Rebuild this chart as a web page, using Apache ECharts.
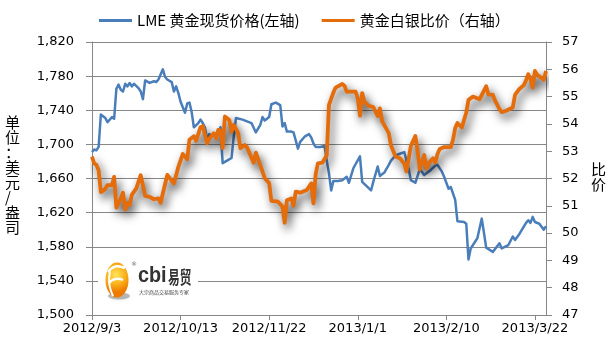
<!DOCTYPE html>
<html>
<head>
<meta charset="utf-8">
<script src="https://cdn.jsdelivr.net/npm/echarts@6/dist/echarts.min.js"></script>
<style>
  html, body { margin: 0; padding: 0; background: #fff; }
  #chart { width: 610px; height: 346px; }
</style>
</head>
<body>
<div id="chart"></div>
<script>
// First day on the time scale; x positions are day offsets from it.
const startDate = '2012/9/3';
const lastDate = '2013/3/27';
const dateTickStep = 40;

// LME spot gold, USD/oz (left axis)
const goldSpot = [
  ['2012/9/3',1691],['2012/9/4',1694],['2012/9/5',1693],['2012/9/6',1697],['2012/9/7',1735],
  ['2012/9/9',1731],['2012/9/10',1726],['2012/9/12',1732],['2012/9/13',1730],['2012/9/14',1765],
  ['2012/9/15',1770],['2012/9/16',1764],['2012/9/17',1762],['2012/9/18',1771],['2012/9/19',1768],
  ['2012/9/20',1772],['2012/9/21',1768],['2012/9/22',1771],['2012/9/24',1766],['2012/9/25',1762],
  ['2012/9/26',1753],['2012/9/27',1775],['2012/9/29',1772],['2012/10/1',1774],['2012/10/2',1773],
  ['2012/10/3',1776],['2012/10/5',1788],['2012/10/6',1779],['2012/10/7',1776],['2012/10/9',1773],
  ['2012/10/10',1762],['2012/10/11',1768],['2012/10/12',1760],['2012/10/13',1750],['2012/10/15',1737],
  ['2012/10/16',1748],['2012/10/17',1749],['2012/10/18',1738],['2012/10/19',1720],['2012/10/21',1725],
  ['2012/10/22',1729],['2012/10/23',1725],['2012/10/24',1720],['2012/10/25',1705],['2012/10/26',1712],
  ['2012/10/27',1710],['2012/10/29',1711],['2012/10/30',1712],['2012/10/31',1720],['2012/11/1',1678],
  ['2012/11/3',1681],['2012/11/5',1684],['2012/11/6',1709],['2012/11/7',1731],['2012/11/10',1729],
  ['2012/11/12',1727],['2012/11/14',1725],['2012/11/16',1714],['2012/11/18',1723],['2012/11/19',1732],
  ['2012/11/20',1728],['2012/11/22',1732],['2012/11/23',1747],['2012/11/25',1749],['2012/11/27',1746],
  ['2012/11/28',1721],['2012/11/29',1725],['2012/11/30',1715],['2012/12/2',1715],['2012/12/3',1714],
  ['2012/12/5',1695],['2012/12/6',1703],['2012/12/8',1709],['2012/12/10',1712],['2012/12/11',1708],
  ['2012/12/12',1701],['2012/12/13',1697],['2012/12/15',1697],['2012/12/17',1698],['2012/12/18',1681],
  ['2012/12/19',1666],['2012/12/20',1646],['2012/12/21',1657],['2012/12/23',1657],['2012/12/25',1658],
  ['2012/12/27',1662],['2012/12/28',1655],['2012/12/30',1672],['2013/1/2',1686],['2013/1/3',1656],
  ['2013/1/5',1651],['2013/1/7',1646],['2013/1/8',1656],['2013/1/10',1674],['2013/1/11',1663],
  ['2013/1/13',1667],['2013/1/15',1676],['2013/1/16',1681],['2013/1/18',1687],['2013/1/20',1689],
  ['2013/1/22',1691],['2013/1/24',1671],['2013/1/25',1658],['2013/1/27',1655],['2013/1/29',1671],
  ['2013/1/31',1664],['2013/2/3',1670],['2013/2/5',1675],['2013/2/6',1676],['2013/2/8',1668],
  ['2013/2/9',1662],['2013/2/11',1648],['2013/2/12',1650],['2013/2/14',1635],['2013/2/15',1610],
  ['2013/2/18',1609],['2013/2/19',1607],['2013/2/20',1565],['2013/2/21',1578],['2013/2/24',1590],
  ['2013/2/26',1613],['2013/2/28',1579],['2013/3/3',1574],['2013/3/6',1584],['2013/3/7',1578],
  ['2013/3/10',1582],['2013/3/12',1592],['2013/3/13',1588],['2013/3/15',1595],['2013/3/18',1608],
  ['2013/3/19',1611],['2013/3/20',1608],['2013/3/21',1615],['2013/3/22',1609],['2013/3/24',1607],
  ['2013/3/26',1600],['2013/3/27',1604]
];

// Gold / silver price ratio (right axis)
const goldSilverRatio = [
  ['2012/9/3',52.8],['2012/9/4',52.55],['2012/9/5',52.5],['2012/9/6',52.3],['2012/9/7',51.5],
  ['2012/9/9',51.62],['2012/9/10',51.76],['2012/9/12',51.76],['2012/9/13',52.06],['2012/9/14',50.93],
  ['2012/9/15',51.1],['2012/9/16',51.28],['2012/9/17',51.48],['2012/9/18',50.86],['2012/9/19',51.1],
  ['2012/9/20',51.03],['2012/9/21',51.4],['2012/9/23',51.64],['2012/9/25',52.12],['2012/9/27',51.36],
  ['2012/9/29',51.33],['2012/10/1',51.24],['2012/10/3',51.27],['2012/10/4',51.11],['2012/10/5',51.46],
  ['2012/10/7',52.13],['2012/10/9',51.92],['2012/10/10',51.82],['2012/10/12',52.43],['2012/10/14',52.9],
  ['2012/10/16',52.7],['2012/10/17',53.42],['2012/10/19',53.55],['2012/10/20',53.38],['2012/10/22',53.88],
  ['2012/10/23',53.92],['2012/10/25',53.29],['2012/10/26',53.47],['2012/10/28',53.66],['2012/10/29',53.47],
  ['2012/10/30',53.78],['2012/10/31',53.76],['2012/11/1',53.11],['2012/11/2',54.27],['2012/11/4',54.14],
  ['2012/11/5',53.71],['2012/11/6',53.96],['2012/11/8',53.66],['2012/11/9',53.11],['2012/11/11',53.23],
  ['2012/11/12',53.14],['2012/11/15',52.58],['2012/11/16',52.95],['2012/11/20',52.01],['2012/11/22',51.83],
  ['2012/11/23',51.18],['2012/11/26',51.15],['2012/11/28',50.97],['2012/11/29',50.38],['2012/11/30',51.2],
  ['2012/12/2',51.27],['2012/12/3',51.0],['2012/12/4',51.52],['2012/12/6',51.48],['2012/12/9',51.58],
  ['2012/12/11',51.82],['2012/12/12',51.09],['2012/12/13',52.16],['2012/12/14',52.55],['2012/12/16',52.58],
  ['2012/12/18',52.85],['2012/12/19',54.7],['2012/12/21',55.15],['2012/12/22',55.33],['2012/12/25',55.46],
  ['2012/12/26',55.4],['2012/12/27',55.18],['2012/12/31',55.18],['2013/1/1',54.94],['2013/1/2',54.3],
  ['2013/1/3',55.13],['2013/1/4',54.8],['2013/1/6',54.66],['2013/1/8',54.62],['2013/1/10',54.29],
  ['2013/1/11',54.57],['2013/1/12',54.1],['2013/1/15',53.66],['2013/1/16',53.22],['2013/1/18',52.81],
  ['2013/1/20',52.74],['2013/1/22',52.55],['2013/1/23',52.26],['2013/1/25',53.2],['2013/1/27',53.56],
  ['2013/1/28',53.04],['2013/1/29',52.33],['2013/1/31',52.86],['2013/2/1',52.37],['2013/2/2',52.56],
  ['2013/2/4',52.74],['2013/2/5',52.58],['2013/2/6',52.9],['2013/2/7',53.08],['2013/2/9',53.15],
  ['2013/2/12',53.15],['2013/2/13',53.41],['2013/2/14',53.85],['2013/2/15',54.03],['2013/2/17',53.87],
  ['2013/2/19',54.42],['2013/2/20',54.88],['2013/2/22',55.0],['2013/2/25',54.9],['2013/2/28',55.38],
  ['2013/3/1',55.08],['2013/3/3',55.06],['2013/3/4',54.85],['2013/3/6',54.54],['2013/3/7',54.43],
  ['2013/3/9',54.48],['2013/3/12',54.6],['2013/3/13',55.06],['2013/3/15',55.28],['2013/3/17',55.42],
  ['2013/3/18',55.6],['2013/3/19',55.82],['2013/3/20',55.65],['2013/3/21',55.33],['2013/3/22',55.94],
  ['2013/3/23',55.8],['2013/3/25',55.68],['2013/3/26',55.62],['2013/3/27',55.94]
];

const goldAxis = { min: 1500, max: 1820, step: 40 };
const ratioAxis = { min: 47, max: 57, step: 1 };

const seriesNames = ['LME 黄金现货价格(左轴)', '黄金白银比价（右轴）'];
const leftAxisTitle = '单位：美元/盎司';
const rightAxisTitle = '比价';
const brandName = 'cbi';
const brandCn = '易贸';
const brandSlogan = '大宗商品交易服务专家';

const DAY = 86400000;
function toUTC(s) {
  const p = s.split('/').map(Number);
  return Date.UTC(p[0], p[1] - 1, p[2]);
}
const origin = toUTC(startDate);
const dayOf = s => (toUTC(s) - origin) / DAY;
function dateLabel(v) {
  const d = new Date(origin + Math.round(v) * DAY);
  return d.getUTCFullYear() + '/' + (d.getUTCMonth() + 1) + '/' + d.getUTCDate();
}
const withComma = v => String(v).replace(/\B(?=(\d{3})+(?!\d))/g, ',');

const gridColor = '#878787';
const tickFont = { color: '#000', fontSize: 13, fontFamily: 'DejaVu Sans' };
const cjk = 'Noto Sans CJK SC';

const chart = echarts.init(document.getElementById('chart'), null, { renderer: 'canvas' });

chart.setOption({
  animation: false,
  backgroundColor: '#fff',
  grid: { left: 92, right: 64, top: 42, bottom: 31, containLabel: false },
  legend: {
    data: seriesNames,
    left: 94,
    top: 8,
    icon: 'rect',
    itemWidth: 33,
    itemHeight: 3,
    itemGap: 22,
    textStyle: { color: '#000', fontSize: 15, fontFamily: cjk }
  },
  xAxis: {
    type: 'value',
    min: 0,
    max: dayOf(lastDate),
    interval: dateTickStep,
    splitLine: { show: false },
    axisLine: { show: true, lineStyle: { color: gridColor, width: 1 } },
    axisTick: { show: true, length: 5, lineStyle: { color: gridColor } },
    axisLabel: Object.assign({ margin: 7, showMaxLabel: false, formatter: dateLabel }, tickFont)
  },
  yAxis: [
    {
      type: 'value',
      position: 'left',
      min: goldAxis.min,
      max: goldAxis.max,
      interval: goldAxis.step,
      axisLine: { show: true, lineStyle: { color: gridColor, width: 1 } },
      axisTick: { show: true, length: 6, lineStyle: { color: gridColor } },
      splitLine: { show: true, lineStyle: { color: gridColor, width: 1 } },
      axisLabel: Object.assign({ margin: 18, formatter: withComma }, tickFont)
    },
    {
      type: 'value',
      position: 'right',
      min: ratioAxis.min,
      max: ratioAxis.max,
      interval: ratioAxis.step,
      axisLine: { show: true, lineStyle: { color: gridColor, width: 1 } },
      axisTick: { show: true, length: 6, lineStyle: { color: gridColor } },
      splitLine: { show: false },
      axisLabel: Object.assign({ margin: 16 }, tickFont)
    }
  ],
  series: [
    {
      name: seriesNames[0],
      type: 'line',
      yAxisIndex: 0,
      showSymbol: false,
      symbol: 'none',
      data: goldSpot.map(([d, v]) => [dayOf(d), v]),
      itemStyle: { color: '#4A7EBB' },
      lineStyle: { color: '#4A7EBB', width: 2.5, join: 'round' },
      z: 3
    },
    {
      name: seriesNames[1],
      type: 'line',
      yAxisIndex: 1,
      showSymbol: false,
      symbol: 'none',
      data: goldSilverRatio.map(([d, v]) => [dayOf(d), v]),
      itemStyle: { color: '#E46C0A' },
      lineStyle: {
        color: '#E46C0A', width: 3.8, join: 'round',
        shadowColor: 'rgba(0,0,0,0.75)', shadowBlur: 10, shadowOffsetX: 3, shadowOffsetY: 5
      },
      z: 4
    }
  ],
  graphic: [
    {
      type: 'text', left: 5, top: 115, z: 10,
      style: {
        text: leftAxisTitle.split('').join('\n'),
        font: '15px "' + cjk + '"', lineHeight: 15, fill: '#000', align: 'center'
      }
    },
    {
      type: 'text', left: 591, top: 162, z: 10,
      style: {
        text: rightAxisTitle.split('').join('\n'),
        font: '15px "' + cjk + '"', lineHeight: 15, fill: '#000'
      }
    },
    // brand badge: white plate over the grid
    { type: 'rect', shape: { x: 98, y: 254, width: 100, height: 56 }, style: { fill: '#fff' }, z: 5, silent: true },
    { type: 'ellipse', shape: { cx: 119, cy: 296, rx: 11, ry: 3.5 }, style: { fill: 'rgba(0,0,0,0.25)', shadowBlur: 4, shadowColor: 'rgba(0,0,0,0.3)' }, z: 6, silent: true },
    {
      type: 'ellipse', shape: { cx: 117, cy: 280, rx: 11.5, ry: 17.5 }, z: 7, silent: true,
      style: {
        fill: new echarts.graphic.RadialGradient(0.45, 0.35, 0.75, [
          { offset: 0, color: '#FFE45C' },
          { offset: 0.55, color: '#FBB21A' },
          { offset: 1, color: '#EE7A00' }
        ])
      }
    },
    { type: 'bezierCurve', shape: { x1: 108, y1: 272, x2: 125, y2: 268, cpx1: 114, cpy1: 264, cpx2: 120, cpy2: 266 }, style: { stroke: '#fff', lineWidth: 2.5, fill: null }, z: 8, silent: true },
    { type: 'bezierCurve', shape: { x1: 109, y1: 283, x2: 123, y2: 280, cpx1: 113, cpy1: 278, cpx2: 119, cpy2: 278 }, style: { stroke: '#fff', lineWidth: 2.5, fill: null }, z: 8, silent: true },
    { type: 'bezierCurve', shape: { x1: 110, y1: 271, x2: 113, y2: 296, cpx1: 108, cpy1: 280, cpx2: 110, cpy2: 290 }, style: { stroke: '#fff', lineWidth: 2, fill: null }, z: 8, silent: true },
    { type: 'text', left: 131, top: 261, z: 8, style: { text: '®', font: '6px "DejaVu Sans"', fill: '#666' } },
    { type: 'text', left: 138, top: 265, z: 8, scaleX: 0.9, originX: 0, originY: 0, style: { text: brandName, font: 'bold 22px "Liberation Sans"', fill: '#333' } },
    { type: 'text', left: 168, top: 268, z: 8, scaleX: 0.65, originX: 0, originY: 0, style: { text: brandCn, font: 'bold 18px "' + cjk + '"', fill: '#333' } },
    { type: 'text', left: 139, top: 290, z: 8, style: { text: brandSlogan, font: '5px "' + cjk + '"', fill: '#444' } }
  ]
});
</script>
</body>
</html>
